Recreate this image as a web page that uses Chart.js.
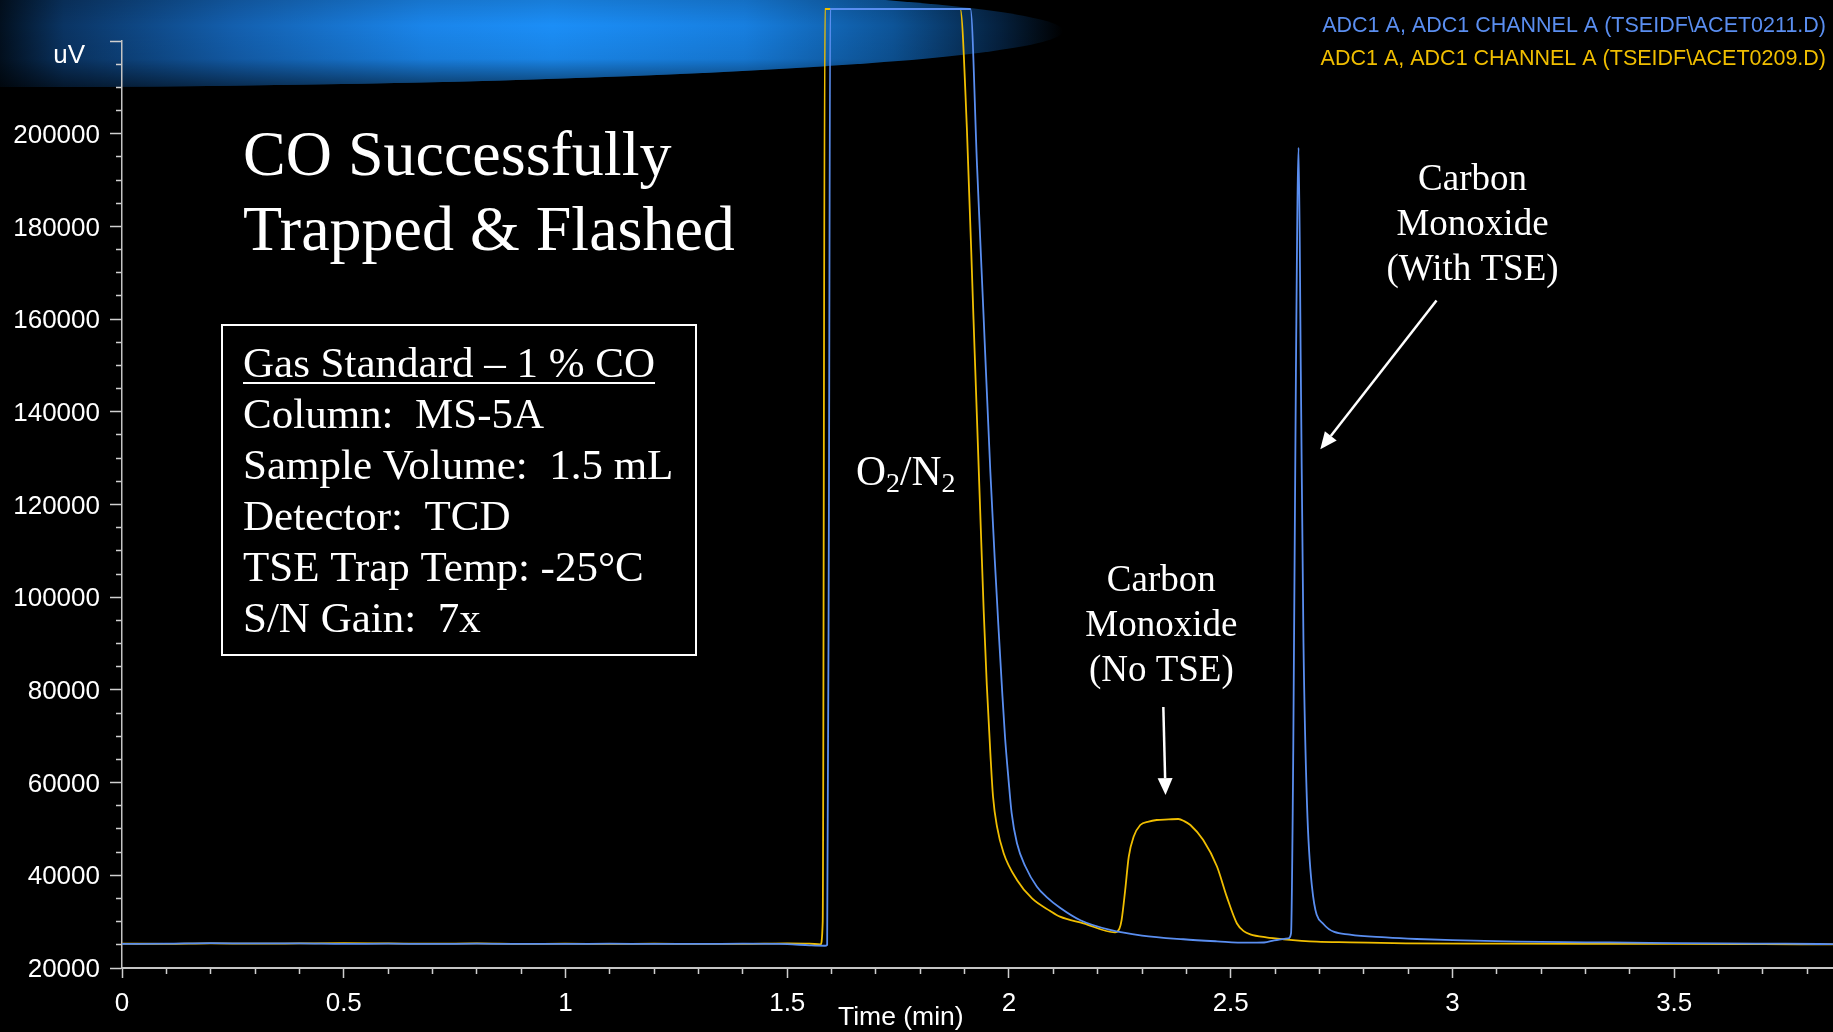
<!DOCTYPE html>
<html>
<head>
<meta charset="utf-8">
<title>CO Successfully Trapped &amp; Flashed</title>
<script src="https://cdn.jsdelivr.net/npm/chart.js@4.4.1/dist/chart.umd.min.js"></script>
<style>
  html, body { margin: 0; padding: 0; background: #000; overflow: hidden; }
  canvas { display: block; }
</style>
</head>
<body>
<canvas id="chromatogram" width="1833" height="1032"></canvas>
<script>
// Run ACET0211 (with TSE trap): retention time (min) and TCD response (uV)
const timeRun0211 = [
  0.00, 0.10, 0.20, 0.30, 0.40, 0.50, 0.60, 0.70, 0.80, 0.90,
  1.00, 1.10, 1.20, 1.30, 1.40, 1.50, 1.55, 1.585, 1.590, 1.594,
  1.597, 1.913, 1.928, 1.943, 1.958, 1.968, 1.976, 1.984, 1.991, 1.999,
  2.006, 2.018, 2.037, 2.063, 2.085, 2.115, 2.161, 2.228, 2.300, 2.393,
  2.469, 2.536, 2.575, 2.604, 2.630, 2.636, 2.641, 2.647, 2.653, 2.658,
  2.664, 2.672, 2.683, 2.709, 2.769, 2.850, 2.919, 3.000, 3.145, 3.300,
  3.445, 3.600, 3.750, 3.858
];
const signalRun0211 = [
  25200, 25250, 25350, 25300, 25300, 25200, 25250, 25200, 25250, 25200,
  25200, 25250, 25200, 25200, 25250, 25150, 24900, 24800, 25000, 120000,
  226900, 226900, 193000, 160000, 127000, 108000, 94000, 80700, 69900, 60600,
  53400, 46900, 41900, 37540, 35300, 33000, 30300, 28200, 27000, 26200,
  25760, 25460, 25500, 26040, 26400, 27500, 67000, 148800, 197000, 148800,
  90300, 55300, 37700, 29500, 27200, 26600, 26260, 26000, 25670, 25550,
  25440, 25300, 25250, 25150
];

// Run ACET0209 (no TSE trap)
const timeRun0209 = [
  0.00, 0.10, 0.20, 0.30, 0.40, 0.50, 0.60, 0.70, 0.80, 0.90,
  1.00, 1.10, 1.20, 1.30, 1.40, 1.50, 1.55, 1.575, 1.580, 1.585,
  1.890, 1.905, 1.920, 1.935, 1.943, 1.950, 1.958, 1.964, 1.973, 1.988,
  2.018, 2.052, 2.093, 2.115, 2.168, 2.239, 2.249, 2.254, 2.262, 2.270,
  2.281, 2.296, 2.315, 2.333, 2.360, 2.382, 2.395, 2.409, 2.438, 2.469,
  2.491, 2.514, 2.530, 2.544, 2.580, 2.619, 2.694, 2.769, 2.895, 3.096,
  3.300, 3.500, 3.700, 3.858
];
const signalRun0209 = [
  25250, 25200, 25300, 25250, 25300, 25350, 25300, 25250, 25300, 25200,
  25250, 25200, 25250, 25200, 25200, 25300, 25250, 25100, 30000, 226900,
  226900, 201300, 160000, 118800, 97000, 81000, 66300, 57000, 50500, 44750,
  39000, 35000, 32300, 31070, 29640, 27700, 28500, 30400, 36800, 44000,
  48300, 50850, 51600, 51930, 52050, 52150, 51700, 50850, 47600, 41900,
  35400, 29600, 27900, 27270, 26600, 26190, 25670, 25540, 25330, 25240,
  25200, 25200, 25150, 25100
];

const seriesLabels = [
  'ADC1 A, ADC1 CHANNEL A (TSEIDF\\ACET0211.D)',
  'ADC1 A, ADC1 CHANNEL A (TSEIDF\\ACET0209.D)'
];
const seriesColors = ['#5a8ef0', '#f0be00'];

// Axis ranges and tick spacing
const xRange = [0, 3.858];
const xMajorTicks = [0, 0.5, 1, 1.5, 2, 2.5, 3, 3.5];
const xTickLabels = ['0', '0.5', '1', '1.5', '2', '2.5', '3', '3.5'];
const xMinorStep = 0.1;
const yRange = [20000, 220000];
const yMajorTicks = [20000, 40000, 60000, 80000, 100000, 120000, 140000, 160000, 180000, 200000, 220000];
const yTickLabels = ['20000', '40000', '60000', '80000', '100000', '120000', '140000', '160000', '180000', '200000', ''];
const yMinorStep = 5000;

// Slide text
const titleLines = ['CO Successfully', 'Trapped & Flashed'];
const conditionLines = [
  'Gas Standard \u2013 1 % CO',
  'Column:  MS-5A',
  'Sample Volume:  1.5 mL',
  'Detector:  TCD',
  'TSE Trap Temp: -25\u00B0C',
  'S/N Gain:  7x'
];
// Peak callouts: arrow tail/tip in (min, uV)
const callouts = [
  { lines: ['Carbon', 'Monoxide', '(No TSE)'], tail: [2.348, 76300], tip: [2.353, 57300], textDx: -2, textDy: -116 },
  { lines: ['Carbon', 'Monoxide', '(With TSE)'], tail: [2.964, 164000], tip: [2.702, 131900], textDx: 36, textDy: -111 }
];

const SANS = '"Liberation Sans", Arial, Helvetica, sans-serif';
const SERIF = '"Liberation Serif", "Times New Roman", Times, serif';

const near = (a, b) => Math.abs(a - b) < 1e-6;
const isMajorX = v => xMajorTicks.some(m => near(m, v));
const isMajorY = v => yMajorTicks.some(m => near(m, v));

function toPoints(ts, vs) {
  return ts.map((t, i) => ({ x: t, y: vs[i] }));
}

// Dark background with the blue streak across the top
const backdrop = {
  id: 'backdrop',
  beforeDraw(chart) {
    const { ctx, width, height } = chart;
    ctx.save();
    ctx.fillStyle = '#000';
    ctx.fillRect(0, 0, width, height);
    ctx.beginPath();
    ctx.ellipse(0, 31, 1063, 56, 0, 0, Math.PI * 2);
    ctx.clip();
    const g = ctx.createLinearGradient(0, 0, 1063, 0);
    g.addColorStop(0.00, '#02101f');
    g.addColorStop(0.06, '#0a3463');
    g.addColorStop(0.22, '#135fae');
    g.addColorStop(0.40, '#1a85ea');
    g.addColorStop(0.52, '#1b8ef7');
    g.addColorStop(0.70, '#177fe0');
    g.addColorStop(0.84, '#0d5498');
    g.addColorStop(0.94, '#05213f');
    g.addColorStop(1.00, '#000000');
    ctx.fillStyle = g;
    ctx.fillRect(0, -30, 1063, 120);
    const v = ctx.createLinearGradient(0, -25, 0, 87);
    v.addColorStop(0.00, 'rgba(0,0,0,0.25)');
    v.addColorStop(0.45, 'rgba(0,0,0,0)');
    v.addColorStop(0.75, 'rgba(0,0,0,0.08)');
    v.addColorStop(1.00, 'rgba(0,0,0,0.55)');
    ctx.fillStyle = v;
    ctx.fillRect(0, -30, 1063, 120);
    ctx.restore();
  }
};

function arrow(ctx, x1, y1, x2, y2, head, halfW) {
  const a = Math.atan2(y2 - y1, x2 - x1);
  const bx = x2 - head * Math.cos(a), by = y2 - head * Math.sin(a);
  ctx.beginPath();
  ctx.moveTo(x1, y1);
  ctx.lineTo(bx, by);
  ctx.stroke();
  ctx.beginPath();
  ctx.moveTo(x2, y2);
  ctx.lineTo(bx + halfW * Math.sin(a), by - halfW * Math.cos(a));
  ctx.lineTo(bx - halfW * Math.sin(a), by + halfW * Math.cos(a));
  ctx.closePath();
  ctx.fill();
}

// Titles, run legend, conditions box and peak callouts
const overlay = {
  id: 'overlay',
  afterDraw(chart) {
    const { ctx } = chart;
    const xs = chart.scales.x, ys = chart.scales.y;
    ctx.save();
    ctx.fillStyle = '#fff';
    ctx.strokeStyle = '#fff';

    // Axis units
    ctx.font = '26px ' + SANS;
    ctx.textAlign = 'right';
    ctx.textBaseline = 'alphabetic';
    ctx.fillText('uV', 85, 63);
    ctx.textAlign = 'left';
    ctx.font = '26.5px ' + SANS;
    ctx.fillText('Time (min)', 838, 1025);

    // Run legend
    ctx.font = '21.5px ' + SANS;
    ctx.textAlign = 'right';
    seriesLabels.forEach((s, i) => {
      ctx.fillStyle = seriesColors[i];
      ctx.fillText(s, 1826, 32 + i * 32.5);
    });

    // Title
    ctx.fillStyle = '#fff';
    ctx.textAlign = 'left';
    ctx.font = '64px ' + SERIF;
    titleLines.forEach((s, i) => ctx.fillText(s, 243, 175 + i * 75));

    // Conditions box
    ctx.lineWidth = 2;
    ctx.strokeRect(222, 325, 474, 330);
    ctx.font = '43px ' + SERIF;
    conditionLines.forEach((s, i) => ctx.fillText(s, 243, 377 + i * 51));
    const uw = ctx.measureText(conditionLines[0]).width;
    ctx.fillRect(243, 382, uw, 2);

    // O2/N2 with subscripts
    let x = 856;
    const base = 485;
    const parts = [['O', 0], ['2', 1], ['/', 0], ['N', 0], ['2', 1]];
    parts.forEach(([t, sub]) => {
      ctx.font = (sub ? '28px ' : '41.5px ') + SERIF;
      ctx.fillText(t, x, base + (sub ? 7 : 0));
      x += ctx.measureText(t).width;
    });

    // Peak callouts
    ctx.font = '37px ' + SERIF;
    ctx.textAlign = 'center';
    ctx.lineWidth = 2.5;
    callouts.forEach(c => {
      const tx = xs.getPixelForValue(c.tail[0]), ty = ys.getPixelForValue(c.tail[1]);
      const hx = xs.getPixelForValue(c.tip[0]), hy = ys.getPixelForValue(c.tip[1]);
      c.lines.forEach((s, i) => ctx.fillText(s, tx + c.textDx, ty + c.textDy + i * 45));
      arrow(ctx, tx, ty, hx, hy, 17, 7.5);
    });
    ctx.restore();
  }
};

new Chart(document.getElementById('chromatogram'), {
  type: 'line',
  data: {
    datasets: [
      {
        label: seriesLabels[0],
        data: toPoints(timeRun0211, signalRun0211),
        borderColor: seriesColors[0],
        borderWidth: 1.8,
        pointRadius: 0,
        cubicInterpolationMode: 'monotone',
        clip: false
      },
      {
        label: seriesLabels[1],
        data: toPoints(timeRun0209, signalRun0209),
        borderColor: seriesColors[1],
        borderWidth: 1.8,
        pointRadius: 0,
        cubicInterpolationMode: 'monotone',
        clip: false
      }
    ]
  },
  options: {
    responsive: false,
    animation: false,
    events: [],
    layout: { padding: { top: 41, right: 0, bottom: 0, left: 0 } },
    plugins: { legend: { display: false }, tooltip: { enabled: false } },
    scales: {
      x: {
        type: 'linear',
        min: xRange[0],
        max: xRange[1],
        afterBuildTicks(s) {
          const n = Math.floor(xRange[1] / xMinorStep + 1e-9);
          s.ticks = [];
          for (let i = 0; i <= n; i++) s.ticks.push({ value: Math.round(i * xMinorStep * 10) / 10 });
        },
        afterFit(s) { s.height = 64; },
        ticks: {
          autoSkip: false,
          maxRotation: 0,
          color: '#fff',
          padding: 10,
          font: { family: SANS, size: 26 },
          callback(v) {
            const k = xMajorTicks.findIndex(m => near(m, v));
            return k >= 0 ? xTickLabels[k] : '';
          }
        },
        grid: {
          drawOnChartArea: false,
          drawTicks: true,
          tickLength: 10,
          tickColor: '#d0d0d0',
          tickWidth: 1.5,
          tickBorderDash: c => (c.tick && isMajorX(c.tick.value)) ? [] : [5, 100]
        },
        border: { display: true, color: '#c4c4c4', width: 2 }
      },
      y: {
        type: 'linear',
        min: yRange[0],
        max: yRange[1],
        afterBuildTicks(s) {
          s.ticks = [];
          for (let v = yRange[0]; v <= yRange[1]; v += yMinorStep) s.ticks.push({ value: v });
        },
        afterFit(s) { s.width = 122; },
        ticks: {
          autoSkip: false,
          color: '#fff',
          padding: 10,
          labelOffset: 2,
          font: { family: SANS, size: 26 },
          callback(v) {
            const k = yMajorTicks.findIndex(m => near(m, v));
            return k >= 0 ? yTickLabels[k] : '';
          }
        },
        grid: {
          drawOnChartArea: false,
          drawTicks: true,
          tickLength: 12,
          tickColor: '#d0d0d0',
          tickWidth: 1.5,
          tickBorderDash: c => (c.tick && isMajorY(c.tick.value)) ? [] : [0, 6, 6, 100]
        },
        border: { display: true, color: '#c4c4c4', width: 1.5 }
      }
    }
  },
  plugins: [backdrop, overlay]
});
</script>
</body>
</html>
